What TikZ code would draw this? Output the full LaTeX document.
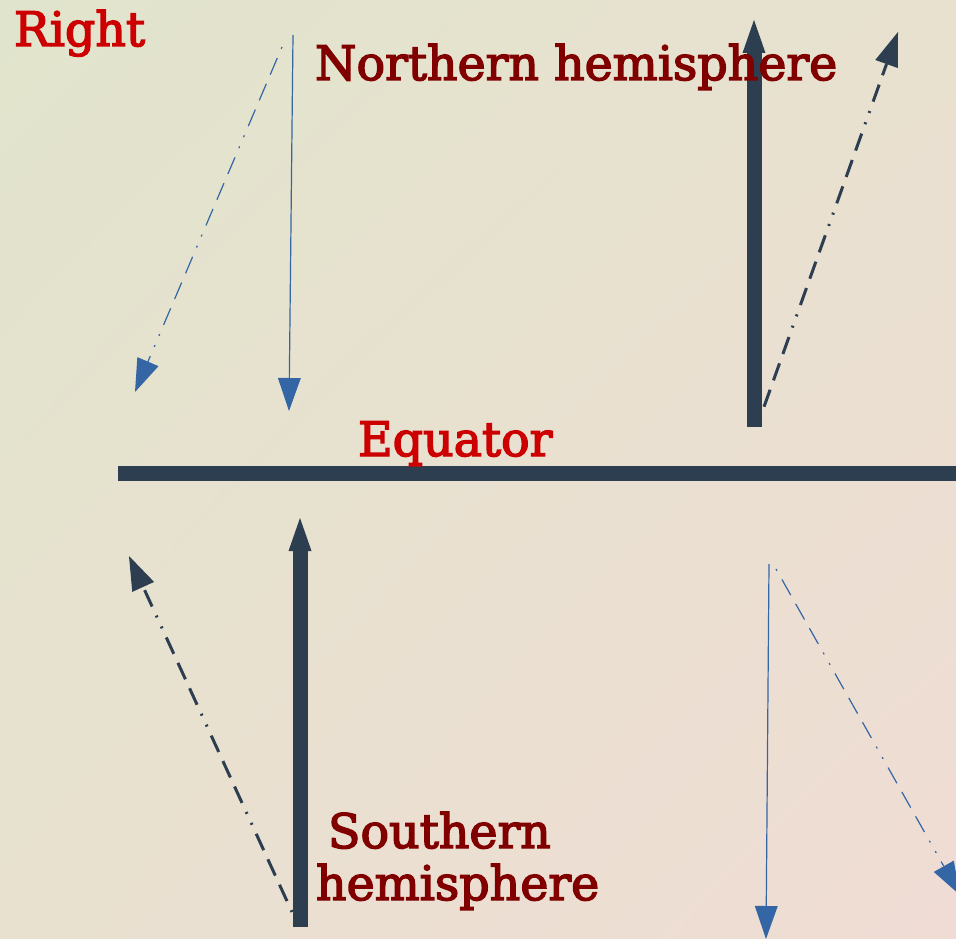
\documentclass[tikz,border=0pt]{standalone}
\usepackage{fontspec}
\setmainfont{DejaVu Serif}
\newfontfamily\heavyserif{DejaVu Serif}[FakeBold=3]
\usetikzlibrary{arrows.meta,shadings}
\definecolor{darkslate}{HTML}{2C3E50}
\definecolor{tblue}{HTML}{3465A4}
\definecolor{tred}{HTML}{CC0000}
\definecolor{maroonx}{HTML}{800000}
\definecolor{bgA}{RGB}{225,228,204}
\definecolor{bgB}{RGB}{240,220,212}
\definecolor{bgC}{RGB}{232,225,208}
\tikzset{
  lbl/.style={inner sep=0pt, outer sep=0pt, font=\heavyserif\fontsize{47.5}{52}\selectfont},
  thinarrow/.style={draw=tblue, line width=1.2pt, -{Triangle[length=33pt,width=23pt,line width=0pt]}, tblue},
  dd/.style={dash pattern=on 2pt off 10pt on 18pt off 10pt on 18pt off 10pt on 18pt off 10pt on 2pt off 10pt},
  blueddarrow/.style={draw=tblue, line width=1.2pt, dd, -{Triangle[length=33pt,width=23pt,line width=0pt]}, tblue},
  darkddarrow/.style={draw=darkslate, line width=3pt, dd, -{Triangle[length=34pt,width=24pt,line width=0pt]}, darkslate},
  thickarrow/.style={draw=darkslate, line width=15pt, -{Triangle[length=33pt,width=23pt,line width=0pt]}, darkslate},
}
\begin{document}
\begin{tikzpicture}[x=1pt,y=-1pt]
\useasboundingbox (0,0) rectangle (956,939);
\clip (0,0) rectangle (956,939);
\shade[upper left=bgA, lower right=bgB, upper right=bgC, lower left=bgC] (0,0) rectangle (956,939);

% coordinates
\coordinate (nA1) at (293,35);   \coordinate (nA2) at (289,411);
\coordinate (nB1) at (282,47);   \coordinate (nB2) at (135,392);
\coordinate (nC1) at (754,427);  \coordinate (nC2) at (754,20);
\coordinate (nD1) at (760,418);  \coordinate (nD2) at (898,32);
\coordinate (sA1) at (300,927);  \coordinate (sA2) at (300,518);
\coordinate (sB1) at (292,912);  \coordinate (sB2) at (129,556);
\coordinate (sC1) at (769,564);  \coordinate (sC2) at (766,939);
\coordinate (sD1) at (776,569);  \coordinate (sD2) at (960,895);
\coordinate (eq1) at (118,473);  \coordinate (eq2) at (970,473);

% equator
\draw[darkslate, line width=15pt] (eq1) -- (eq2);

% northern arrows
\draw[thinarrow] (nA1) -- (nA2);
\draw[blueddarrow] (nB1) -- (nB2);
\draw[thickarrow] (nC1) -- (nC2);
\draw[darkddarrow] (nD1) -- (nD2);

% southern arrows
\draw[thickarrow] (sA1) -- (sA2);
\draw[darkddarrow] (sB1) -- (sB2);
\draw[thinarrow] (sC1) -- (sC2);
\draw[blueddarrow] (sD1) -- (sD2);

% labels
\node[lbl, anchor=base west, text=tred] (right) at (14,46) {Right};
\node[lbl, anchor=base west, text=maroonx] (north) at (315,80) {Northern hemisphere};
\node[lbl, anchor=base west, text=tred] (equator) at (358,456) {Equator};
\node[lbl, anchor=base west, text=maroonx, align=left] (south) at (316,900) {\hspace{12pt}Southern\\hemisphere};
\end{tikzpicture}
\end{document}
